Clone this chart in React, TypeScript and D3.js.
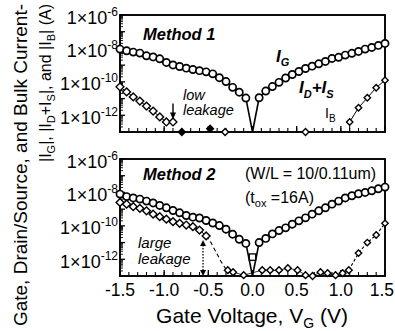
import React from "react";
import * as d3 from "d3";

// gate voltage steps (V)
const vNeg = [-1.5, -1.425, -1.35, -1.275, -1.2, -1.125, -1.05, -0.975, -0.9, -0.825, -0.75, -0.675, -0.6, -0.525, -0.45, -0.375, -0.3, -0.225, -0.15, -0.075];
const vPos = [0.075, 0.15, 0.225, 0.3, 0.375, 0.45, 0.525, 0.6, 0.675, 0.75, 0.825, 0.9, 0.975, 1.05, 1.125, 1.2, 1.275, 1.35, 1.425, 1.5];

// all currents below are log10(|I| / A)

// Method 1
const igM1Neg = [-8.04, -8.14, -8.22, -8.28, -8.44, -8.51, -8.62, -8.84, -8.99, -9.08, -9.18, -9.26, -9.33, -9.4, -9.52, -9.75, -9.98, -10.33, -10.62, -10.97];
const igM1Pos = [-10.95, -10.55, -10.28, -10.03, -9.77, -9.56, -9.38, -9.2, -9.06, -8.92, -8.78, -8.6, -8.53, -8.4, -8.29, -8.18, -8.04, -7.94, -7.82, -7.7];
const idsM1V = [-1.5, -1.425, -1.35, -1.275, -1.2, -1.125, -1.05, -0.975, -0.9];
const idsM1 = [-10.3, -10.6, -10.9, -11.15, -11.45, -11.75, -12.1, -12.4, -12.4];
const floorM1V = [-0.8, -0.48, -0.31, 0.6];
const floorM1 = [-13.0, -12.8, -13.0, -13.0];
const ibM1V = [1.1, 1.2, 1.3, 1.4, 1.5];
const ibM1 = [-12.4, -11.55, -10.95, -10.35, -9.9];

// Method 2
const igM2Neg = [-8.1, -8.25, -8.33, -8.4, -8.52, -8.63, -8.78, -8.92, -9.08, -9.22, -9.38, -9.48, -9.53, -9.68, -9.83, -9.98, -10.2, -10.5, -10.8, -11.05];
const igM2Pos = [-11.0, -10.75, -10.48, -10.28, -10.12, -9.9, -9.7, -9.52, -9.3, -9.1, -8.92, -8.7, -8.52, -8.33, -8.2, -8.08, -8.0, -7.9, -7.78, -7.68];
const idsM2V = [-1.5, -1.425, -1.35, -1.275, -1.2, -1.125, -1.05, -0.975, -0.9, -0.825, -0.75, -0.675, -0.6, -0.525];
const idsM2 = [-8.6, -8.7, -8.85, -8.95, -9.1, -9.3, -9.45, -9.6, -9.75, -9.85, -9.95, -10.05, -10.25, -10.6];
const dropM2V = [-0.47, -0.42, -0.36, -0.3];
const dropM2 = [-11.0, -11.5, -12.1, -12.6];
const lowM2V = [-0.28, -0.22, -0.1, 0.11, 0.2, 0.3, 0.4, 0.51, 0.6, 0.68, 0.77, 0.85, 0.94, 1.02, 1.09];
const lowM2 = [-12.65, -12.77, -12.95, -12.65, -12.65, -12.65, -12.53, -12.65, -12.95, -13.0, -12.77, -12.83, -12.95, -12.83, -12.65];
const riseM2V = [1.2, 1.3, 1.4, 1.5];
const riseM2 = [-11.63, -11.0, -10.55, -9.85];
const sqM2 = -11.87;

// axis labels
const xTickVals = [-1.5, -1.0, -0.5, 0.0, 0.5, 1.0, 1.5];
const xTickLabels = ["-1.5", "-1.0", "-0.5", "0.0", "0.5", "1.0", "1.5"];
const yLabelExps = [-6, -8, -10, -12];

const FONT = "'Liberation Sans', Arial, Helvetica, sans-serif";
const FLOOR = -13;

const x = d3.scaleLinear().domain([-1.5, 1.5]).range([120, 385]);
const yTop = d3.scaleLog().domain([1e-13, 1e-6]).range([132, 15]);
const yBot = d3.scaleLog().domain([1e-13, 1e-6]).range([276, 159]);

type Scale = d3.ScaleLogarithmic<number, number>;
const py = (y: Scale, e: number) => y(Math.pow(10, e));
const zip = (vs: number[], es: number[]): [number, number][] => vs.map((v, i) => [v, es[i]]);
const mkLine = (y: Scale) =>
  d3.line<[number, number]>().x((d) => x(d[0])).y((d) => py(y, d[1]));

const Circ = ({ cx, cy }: { cx: number; cy: number }) => (
  <circle cx={cx} cy={cy} r={3.6} fill="#fff" stroke="#000" strokeWidth={1.7} />
);
const Diam = ({ cx, cy, s = 3.9, fill = "#fff" }: { cx: number; cy: number; s?: number; fill?: string }) => (
  <path d={`M${cx},${cy - s}L${cx + s},${cy}L${cx},${cy + s}L${cx - s},${cy}Z`} fill={fill} stroke="#000" strokeWidth={1.4} />
);

const Frame = ({ y }: { y: Scale }) => {
  const [b, t] = y.range();
  const [l, r] = x.range();
  const decades = [-13, -12, -11, -10, -9, -8, -7];
  const minor: number[] = [];
  decades.forEach((d) => [2, 3, 4, 5, 6, 7, 8, 9].forEach((k) => minor.push(k * Math.pow(10, d))));
  return (
    <g>
      {x.ticks(30).map((v, i) => (
        <line key={"xt" + i} x1={x(v)} x2={x(v)} y1={b} y2={b - 4} stroke="#000" strokeWidth={1.1} />
      ))}
      {x.ticks(6).map((v, i) => (
        <line key={"xT" + i} x1={x(v)} x2={x(v)} y1={b} y2={b - 6} stroke="#000" strokeWidth={1.3} />
      ))}
      {decades.concat([-6]).map((d) => (
        <line key={"yT" + d} x1={l} x2={l + 5} y1={py(y, d)} y2={py(y, d)} stroke="#000" strokeWidth={1.3} />
      ))}
      {minor.map((m, i) => (
        <line key={"ym" + i} x1={l} x2={l + 3} y1={y(m)} y2={y(m)} stroke="#000" strokeWidth={0.9} />
      ))}
      <rect x={l} y={t} width={r - l} height={b - t} fill="none" stroke="#000" strokeWidth={1.9} />
      {yLabelExps.map((e) => (
        <text key={"yl" + e} x={118} y={py(y, e) + 8.5} textAnchor="end" fontSize={18} fontFamily={FONT}>
          1×10<tspan dy={-8} fontSize={12}>{String(e)}</tspan>
        </text>
      ))}
    </g>
  );
};

const App = () => {
  const lTop = mkLine(yTop);
  const lBot = mkLine(yBot);
  const igM1Line = [...zip(vNeg, igM1Neg), [0, FLOOR] as [number, number], ...zip(vPos, igM1Pos)];
  const igM2Line = [...zip(vNeg, igM2Neg), [0, FLOOR] as [number, number], ...zip(vPos, igM2Pos)];
  const ibM1Line = [[ibM1V[0], FLOOR] as [number, number], ...zip(ibM1V, ibM1)];
  const riseM2Line = [zip(lowM2V, lowM2)[lowM2V.length - 1], ...zip(riseM2V, riseM2)];
  const dropM2Line = [[idsM2V[idsM2V.length - 1], idsM2[idsM2.length - 1]] as [number, number], ...zip(dropM2V, dropM2)];

  const arrowTopX = x(-0.9);
  const aT0 = py(yTop, -11.3);
  const aT1 = py(yTop, -12.25);
  const arrowBotX = x(-0.56);
  const aB0 = py(yBot, -10.85);
  const aB1 = py(yBot, FLOOR);

  return (
    <svg width={395} height={331} style={{ position: "absolute", left: 0, top: 0, background: "#fff" }} fontFamily={FONT}>
      {/* y title */}
      <text transform="rotate(-90)" x={-4} y={27} textAnchor="end" fontSize={19}>
        Gate, Drain/Source, and Bulk Current-
      </text>
      <text transform="rotate(-90)" x={-4} y={51} textAnchor="end" fontSize={16}>
        |I<tspan dy={4} fontSize={11}>G</tspan>
        <tspan dy={-4}>{"|, |I"}</tspan>
        <tspan dy={4} fontSize={11}>D</tspan>
        <tspan dy={-4}>+I</tspan>
        <tspan dy={4} fontSize={11}>S</tspan>
        <tspan dy={-4}>{"|, and |I"}</tspan>
        <tspan dy={4} fontSize={11}>B</tspan>
        <tspan dy={-4}>{"| (A)"}</tspan>
      </text>

      {/* Method 1 */}
      <Frame y={yTop} />
      <path d={lTop(zip(idsM1V, idsM1)) || ""} fill="none" stroke="#000" strokeWidth={1} />
      <path d={lTop(ibM1Line) || ""} fill="none" stroke="#000" strokeWidth={1} />
      <path d={lTop(igM1Line) || ""} fill="none" stroke="#000" strokeWidth={1.6} />
      {zip(idsM1V, idsM1).map((d, i) => (
        <Diam key={"d1" + i} cx={x(d[0])} cy={py(yTop, d[1])} />
      ))}
      {zip(floorM1V, floorM1).map((d, i) => (
        <Diam key={"f1" + i} cx={x(d[0])} cy={py(yTop, d[1])} s={3.4} fill={i < 2 ? "#000" : "#fff"} />
      ))}
      {zip(ibM1V, ibM1).map((d, i) => (
        <Diam key={"b1" + i} cx={x(d[0])} cy={py(yTop, d[1])} s={3.2} />
      ))}
      {zip(vNeg, igM1Neg).concat(zip(vPos, igM1Pos)).map((d, i) => (
        <Circ key={"g1" + i} cx={x(d[0])} cy={py(yTop, d[1])} />
      ))}
      <line x1={arrowTopX} x2={arrowTopX} y1={aT0} y2={aT1 - 6} stroke="#000" strokeWidth={1.4} />
      <path d={`M${arrowTopX - 3},${aT1 - 7}L${arrowTopX + 3},${aT1 - 7}L${arrowTopX},${aT1}Z`} fill="#000" />

      <text x={143} y={40} fontSize={16.5} fontWeight="bold" fontStyle="italic">Method 1</text>
      <text x={276} y={62} fontSize={17} fontWeight="bold" fontStyle="italic">
        I<tspan dy={4} fontSize={11}>G</tspan>
      </text>
      <text x={299} y={93} fontSize={17} fontWeight="bold" fontStyle="italic">
        I<tspan dy={5} fontSize={11}>D</tspan>
        <tspan dy={-5}>+I</tspan>
        <tspan dy={5} fontSize={11}>S</tspan>
      </text>
      <text x={325} y={118} fontSize={14}>
        I<tspan dy={4} fontSize={10}>B</tspan>
      </text>
      <text x={183} y={100} fontSize={14.5} fontStyle="italic">low</text>
      <text x={183} y={115} fontSize={14.5} fontStyle="italic">leakage</text>

      {/* Method 2 */}
      <Frame y={yBot} />
      <path d={lBot(dropM2Line) || ""} fill="none" stroke="#000" strokeWidth={1.1} strokeDasharray="4,3" />
      <path d={lBot(zip(idsM2V, idsM2)) || ""} fill="none" stroke="#000" strokeWidth={1} />
      <path d={lBot(zip(lowM2V, lowM2)) || ""} fill="none" stroke="#000" strokeWidth={0.8} />
      <path d={lBot(riseM2Line) || ""} fill="none" stroke="#000" strokeWidth={1.1} strokeDasharray="3,2" />
      <path d={lBot(igM2Line) || ""} fill="none" stroke="#000" strokeWidth={1.6} />
      {zip(idsM2V, idsM2).map((d, i) => (
        <Diam key={"d2" + i} cx={x(d[0])} cy={py(yBot, d[1])} />
      ))}
      {zip(lowM2V, lowM2).map((d, i) => (
        <Diam key={"l2" + i} cx={x(d[0])} cy={py(yBot, d[1])} s={3.4} />
      ))}
      {zip(riseM2V, riseM2).map((d, i) => (
        <Diam key={"r2" + i} cx={x(d[0])} cy={py(yBot, d[1])} s={3.2} />
      ))}
      {zip(vNeg, igM2Neg).concat(zip(vPos, igM2Pos)).map((d, i) => (
        <Circ key={"g2" + i} cx={x(d[0])} cy={py(yBot, d[1])} />
      ))}
      <rect x={x(0) - 3.2} y={py(yBot, sqM2) - 3.2} width={6.4} height={6.4} fill="#fff" stroke="#000" strokeWidth={1.3} />
      <line x1={arrowBotX} x2={arrowBotX} y1={aB0 + 5} y2={aB1 - 5} stroke="#000" strokeWidth={1.3} strokeDasharray="1.5,1.5" />
      <path d={`M${arrowBotX - 3},${aB0 + 6}L${arrowBotX + 3},${aB0 + 6}L${arrowBotX},${aB0}Z`} fill="#000" />
      <path d={`M${arrowBotX - 3},${aB1 - 6}L${arrowBotX + 3},${aB1 - 6}L${arrowBotX},${aB1}Z`} fill="#000" />

      <text x={143} y={180} fontSize={16.5} fontWeight="bold" fontStyle="italic">Method 2</text>
      <text x={245} y={179} fontSize={16}>(W/L = 10/0.11um)</text>
      <text x={245} y={203} fontSize={16}>
        (t<tspan dy={4} fontSize={11}>ox</tspan>
        <tspan dy={-4}>{" =16A)"}</tspan>
      </text>
      <text x={138} y={248} fontSize={15} fontStyle="italic">large</text>
      <text x={138} y={264} fontSize={15} fontStyle="italic">leakage</text>

      {/* x axis labels */}
      {xTickVals.map((v, i) => {
        const last = i === xTickVals.length - 1;
        return (
          <text key={"xl" + i} x={last ? 394 : x(v)} y={296} textAnchor={last ? "end" : "middle"} fontSize={17.5}>
            {xTickLabels[i]}
          </text>
        );
      })}
      <text x={252} y={323} textAnchor="middle" fontSize={21}>
        Gate Voltage, V<tspan dy={5} fontSize={14}>G</tspan>
        <tspan dy={-5}>{" (V)"}</tspan>
      </text>
    </svg>
  );
};

export default App;
